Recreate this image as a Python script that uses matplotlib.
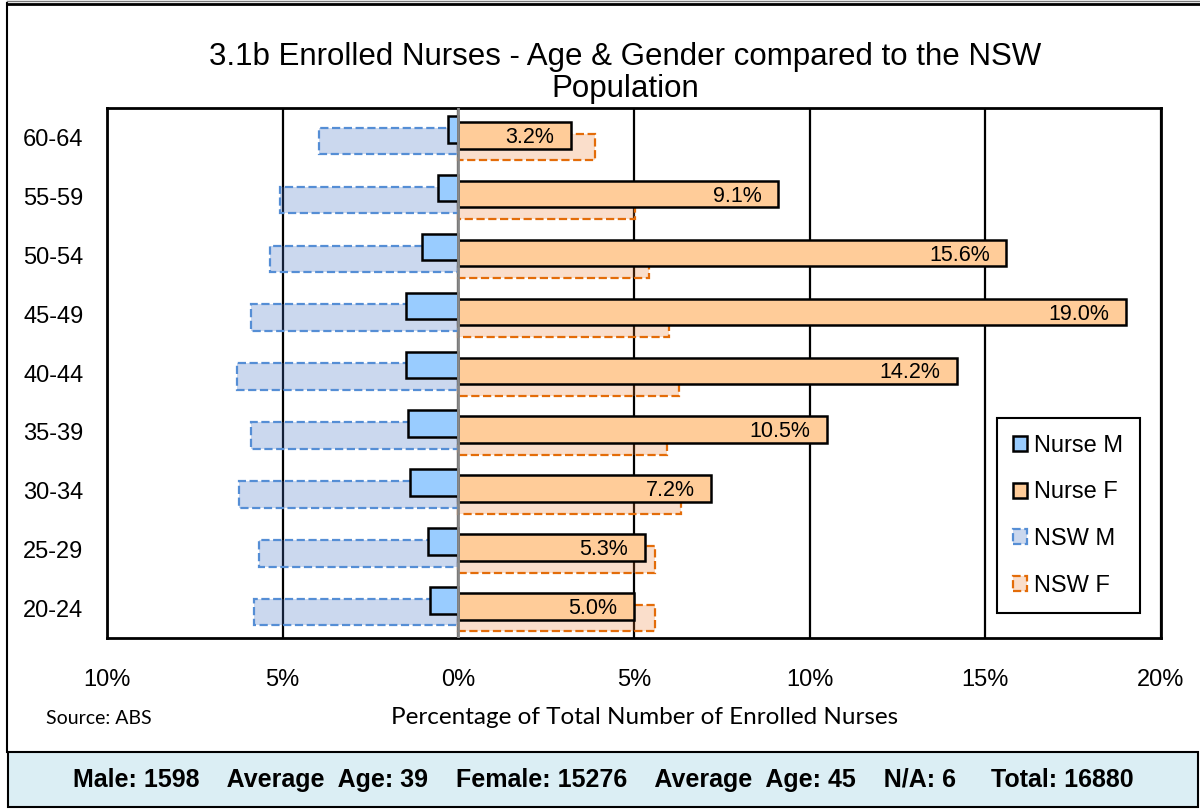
import numpy as np
import matplotlib.pyplot as plt
from matplotlib.patches import Rectangle
from matplotlib.lines import Line2D

plt.rcParams['font.family'] = ['Liberation Sans', 'DejaVu Sans']

# data (percent of total enrolled nurses / NSW population)
ages = ['60-64', '55-59', '50-54', '45-49', '40-44', '35-39', '30-34', '25-29', '20-24']
nurse_m = [-0.29, -0.58, -1.03, -1.49, -1.49, -1.43, -1.37, -0.86, -0.81]
nurse_f = [3.2, 9.1, 15.6, 19.0, 14.2, 10.5, 7.2, 5.3, 5.0]
nsw_m = [-3.96, -5.09, -5.37, -5.89, -6.29, -5.89, -6.23, -5.66, -5.83]
nsw_f = [3.89, 5.03, 5.44, 6.01, 6.29, 5.95, 6.34, 5.60, 5.60]
xticks = [-10, -5, 0, 5, 10, 15, 20]
xtick_labels = ['10%', '5%', '0%', '5%', '10%', '15%', '20%']
title = '3.1b Enrolled Nurses - Age & Gender compared to the NSW\nPopulation'
xlabel = 'Percentage of Total Number of Enrolled Nurses'
footer = 'Male: 1598    Average  Age: 39    Female: 15276    Average  Age: 45    N/A: 6     Total: 16880'

fig = plt.figure(figsize=(12, 8.09), dpi=100)
ax = fig.add_axes([107 / 1200, 1 - 638 / 809, 1054 / 1200, 530 / 809])

y = np.arange(len(ages))
h = 0.45

# NSW population bars sit behind, a little lower, semi transparent with dashed edge
b_nswf = ax.barh(y + 0.163, nsw_f, height=h, facecolor=(0.93, 0.49, 0.19, 0.25),
                 edgecolor='#E36C09', linestyle='--', linewidth=1.6, zorder=2)
b_nswm = ax.barh(y + 0.061, nsw_m, height=h, facecolor=(0.27, 0.45, 0.77, 0.28),
                 edgecolor='#558ED5', linestyle='--', linewidth=1.6, zorder=2)
b_nf = ax.barh(y - 0.037, nurse_f, height=h, facecolor='#FFCC99',
               edgecolor='black', linewidth=1.8, zorder=3)
b_nm = ax.barh(y - 0.139, nurse_m, height=h, facecolor='#99CCFF',
               edgecolor='black', linewidth=1.8, zorder=3)

for yi, v in zip(y, nurse_f):
    ax.annotate(f'{v:.1f}%', (v, yi - 0.037), xytext=(-12, -1.5), textcoords='offset points',
                ha='right', va='center', fontsize=15.5, zorder=4)

# zero line on top of everything
ax.axvline(0, color='#888888', linewidth=2, zorder=5)

ax.set_xlim(-10, 20)
ax.set_ylim(len(ages) - 0.5, -0.5)
ax.set_xticks(xticks)
ax.set_xticklabels(xtick_labels, fontsize=17)
ax.set_yticks(y)
ax.set_yticklabels(ages, fontsize=17)
ax.tick_params(axis='both', length=0)
ax.tick_params(axis='x', pad=22)
ax.tick_params(axis='y', pad=17)
ax.set_axisbelow(True)
ax.grid(axis='x', color='black', linewidth=1.6)
for s in ax.spines.values():
    s.set_linewidth(2)
    s.set_color('black')

leg = ax.legend([b_nm, b_nf, b_nswm, b_nswf], ['Nurse M', 'Nurse F', 'NSW M', 'NSW F'],
                loc='upper left', bbox_to_anchor=(0.844, 0.415), borderaxespad=0,
                fontsize=17, fancybox=False, edgecolor='black', framealpha=1,
                handlelength=0.6, handleheight=0.6, handletextpad=0.3,
                labelspacing=1.05, borderpad=0.7)
leg.get_frame().set_linewidth(1.5)
leg.set_zorder(6)

fig.text(625 / 1200, 1 - 73 / 809, title, ha='center', va='center',
         fontsize=22.5, linespacing=1.12)
fig.text(645 / 1200, 1 - 718 / 809, xlabel, ha='center', va='center',
         fontsize=17.5, family=['Lato', 'DejaVu Sans'])
fig.text(46 / 1200, 1 - 718 / 809, 'Source: ABS', ha='left', va='center',
         fontsize=14, family=['Lato', 'DejaVu Sans'])

# outer frame and the statistics box along the bottom
fig.add_artist(Line2D([7 / 1200, 7 / 1200], [1 - 752 / 809, 1 - 3 / 809],
                      transform=fig.transFigure, color='black', linewidth=1.5))
fig.add_artist(Line2D([7 / 1200, 1], [1 - 4 / 809, 1 - 4 / 809],
                      transform=fig.transFigure, color='black', linewidth=2))
fig.add_artist(Line2D([7 / 1200, 1], [1 - 1 / 809, 1 - 1 / 809],
                      transform=fig.transFigure, color='#777777', linewidth=1))
fig.add_artist(Rectangle((8 / 1200, 1 - 807 / 809), 1190 / 1200, 55 / 809,
                         transform=fig.transFigure, facecolor='#DBEEF4',
                         edgecolor='black', linewidth=1.5))
fig.text(603 / 1200, 1 - 780 / 809, footer, ha='center', va='center',
         fontsize=18, fontweight='bold')

fig.savefig('out.png', dpi=100)
